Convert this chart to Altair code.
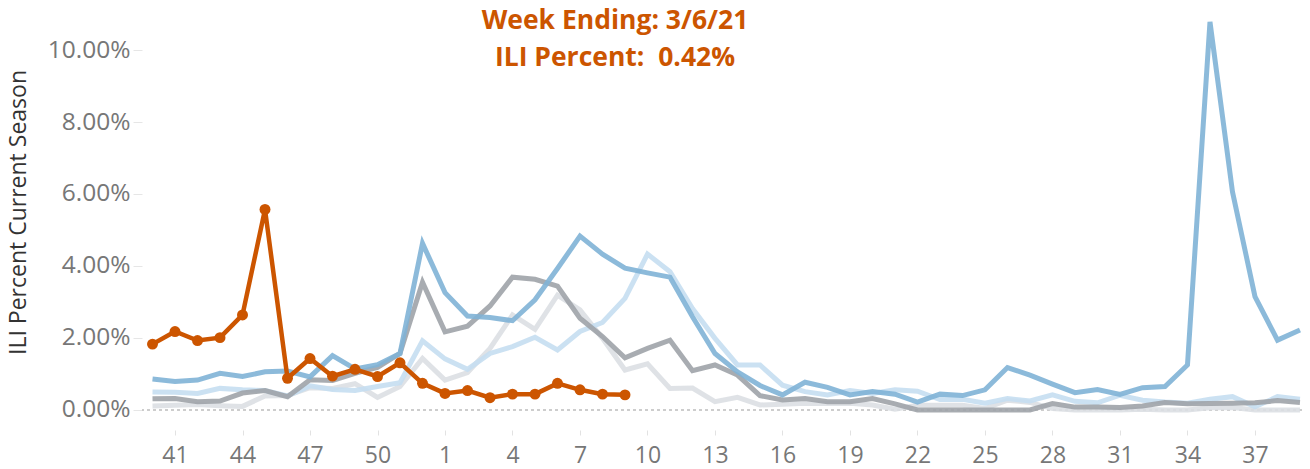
import altair as alt
import pandas as pd

# Week labels of the flu season (week 40 .. week 39)
weeks = list(range(40, 53)) + list(range(1, 40))

current_2020_21 = [1.83, 2.18, 1.93, 2.01, 2.64, 5.57, 0.88, 1.43, 0.94, 1.13, 0.93, 1.31, 0.74,
                   0.46, 0.54, 0.34, 0.44, 0.44, 0.74, 0.56, 0.44, 0.42]

season_2019_20 = [0.86, 0.79, 0.83, 1.02, 0.93, 1.06, 1.08, 0.92, 1.51, 1.14, 1.26, 1.57, 4.63,
                  3.26, 2.61, 2.57, 2.48, 3.06, 3.93, 4.83, 4.33, 3.94, 3.81, 3.69, 2.59, 1.57,
                  1.06, 0.68, 0.42, 0.77, 0.63, 0.42, 0.51, 0.44, 0.22, 0.44, 0.40, 0.56, 1.18,
                  0.97, 0.72, 0.48, 0.57, 0.43, 0.62, 0.65, 1.25, 10.78, 6.06, 3.15, 1.94, 2.22]

season_2018_19 = [0.50, 0.49, 0.46, 0.60, 0.56, 0.54, 0.39, 0.67, 0.57, 0.54, 0.65, 0.76, 1.92,
                  1.42, 1.13, 1.57, 1.76, 2.02, 1.67, 2.18, 2.43, 3.10, 4.33, 3.84, 2.82, 1.99,
                  1.25, 1.25, 0.69, 0.51, 0.42, 0.54, 0.46, 0.56, 0.52, 0.29, 0.30, 0.19, 0.32,
                  0.25, 0.42, 0.24, 0.20, 0.41, 0.27, 0.22, 0.19, 0.30, 0.37, 0.09, 0.37, 0.30]

season_2017_18 = [0.31, 0.32, 0.23, 0.25, 0.47, 0.54, 0.37, 0.84, 0.82, 1.02, 1.18, 1.57, 3.55,
                  2.17, 2.33, 2.89, 3.69, 3.63, 3.44, 2.55, 2.04, 1.45, 1.71, 1.94, 1.09, 1.25,
                  0.97, 0.40, 0.28, 0.32, 0.23, 0.23, 0.32, 0.17, 0.0, 0.0, 0.0, 0.0, 0.0,
                  0.0, 0.18, 0.08, 0.08, 0.07, 0.11, 0.21, 0.17, 0.18, 0.19, 0.20, 0.26, 0.21]

season_2016_17 = [0.11, 0.13, 0.15, 0.12, 0.10, 0.39, 0.40, 0.62, 0.60, 0.73, 0.35, 0.65, 1.43,
                  0.83, 1.04, 1.71, 2.64, 2.24, 3.19, 2.78, 1.99, 1.11, 1.28, 0.60, 0.61, 0.23,
                  0.35, 0.14, 0.16, 0.19, 0.18, 0.19, 0.14, 0.02, 0.13, 0.13, 0.13, 0.04, 0.27,
                  0.21, 0.04, 0.0, 0.0, 0.0, 0.02, 0.0, 0.0, 0.06, 0.07, 0.0, 0.0, 0.0]

x_tick_idx = list(range(1, 52, 3))
y_ticks = [0, 2, 4, 6, 8, 10]

title_lines = ["Week Ending: 3/6/21", "ILI Percent: \u00a00.42%"]

ORANGE = "#cc5500"
Y_DOMAIN = [-0.556, 11.167]

def frame(values, name):
    return pd.DataFrame({"idx": list(range(len(values))),
                         "week": weeks[:len(values)],
                         "ili": values,
                         "season": name})

x_enc = alt.X("idx:Q",
              scale=alt.Scale(domain=[-0.467, 51.09], nice=False, zero=False),
              axis=alt.Axis(values=x_tick_idx,
                            labelExpr="datum.value < 13 ? datum.value + 40 : datum.value - 12",
                            title=None, grid=False, domain=False,
                            tickSize=5, tickColor="#e2e2e2", tickWidth=1,
                            labelFont="Open Sans", labelFontSize=23, labelColor="#777777",
                            labelBaseline="alphabetic", labelPadding=27))
y_enc = alt.Y("ili:Q",
              scale=alt.Scale(domain=Y_DOMAIN, nice=False, zero=False),
              axis=alt.Axis(values=y_ticks,
                            labelExpr="format(datum.value, '.2f') + '%'",
                            title="ILI Percent Current Season",
                            titleFont="Open Sans", titleFontSize=23, titleFontWeight="normal",
                            titleColor="#333333", titleX=-124, titleY=204,
                            titleAlign="center", titleBaseline="middle", titleAngle=270,
                            grid=False, domain=False,
                            tickSize=9, tickColor="#e6e6e6", tickWidth=1,
                            labelFont="Open Sans", labelFontSize=24.5, labelColor="#777777",
                            labelPadding=3, labelBaseline="middle"))

zero_rule = alt.Chart(pd.DataFrame({"z": [0]})).mark_rule(
    color="#bdbdbd", strokeDash=[3, 3], strokeWidth=1.5
).encode(y=alt.Y("z:Q", scale=alt.Scale(domain=Y_DOMAIN, nice=False, zero=False)))

def line_layer(values, name, color, width=5, opacity=0.9):
    return alt.Chart(frame(values, name)).mark_line(
        color=color, strokeWidth=width, opacity=opacity, strokeJoin="miter", strokeCap="butt"
    ).encode(x=x_enc, y=y_enc)

layers = [
    zero_rule,
    line_layer(season_2016_17, "2016-17", "#dcdfe3"),
    line_layer(season_2018_19, "2018-19", "#c5def1"),
    line_layer(season_2017_18, "2017-18", "#9fa3a9"),
    line_layer(season_2019_20, "2019-20", "#7fb3d6"),
]

cur = frame(current_2020_21, "2020-21")
layers.append(alt.Chart(cur).mark_line(color=ORANGE, strokeWidth=4.5).encode(x=x_enc, y=y_enc))
layers.append(alt.Chart(cur).mark_circle(color=ORANGE, size=120, opacity=1).encode(x=x_enc, y=y_enc))

for i, t in enumerate(title_lines):
    layers.append(
        alt.Chart(pd.DataFrame({"t": [t]})).mark_text(
            font="Open Sans", fontSize=26.5, fontWeight="bold", color=ORANGE,
            align="center", baseline="alphabetic"
        ).encode(text="t:N", x=alt.value(473), y=alt.value(21 + 37 * i))
    )

chart = alt.layer(*layers).properties(
    width=1160, height=422,
    padding={"left": 134, "top": 0, "right": 0, "bottom": 38},
    autosize=alt.AutoSizeParams(type="none"),
).configure_view(stroke=None)

chart.save("out.html", embed_options={"renderer": "svg", "actions": False})
